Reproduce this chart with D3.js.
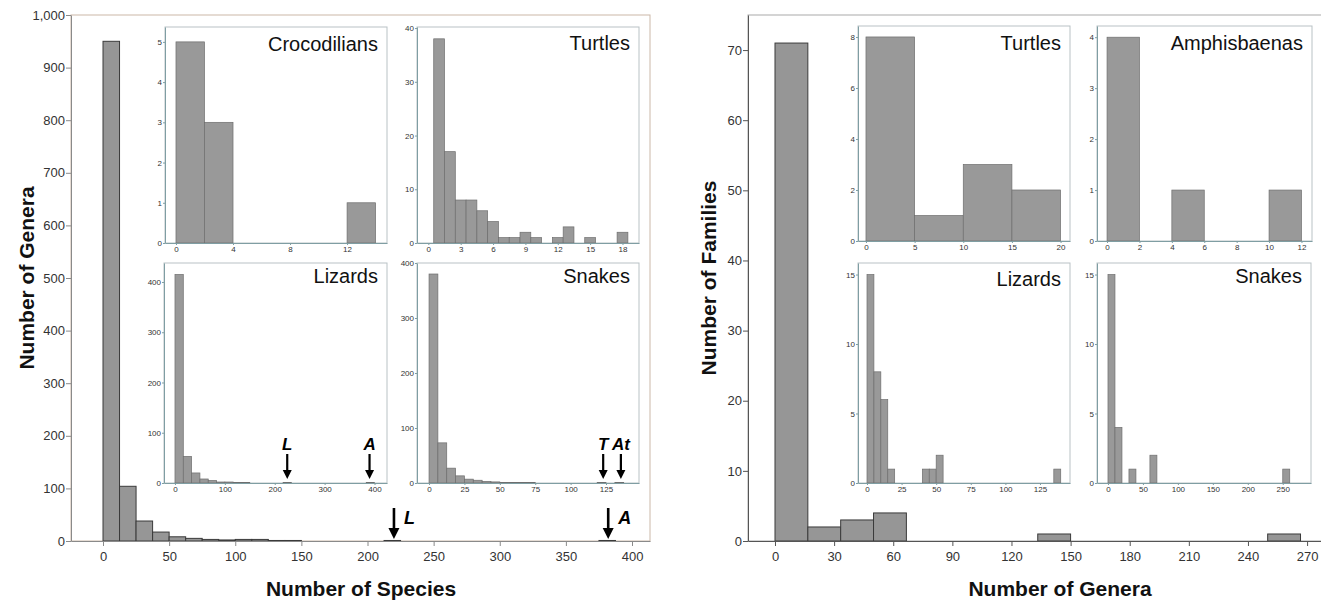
<!DOCTYPE html>
<html>
<head>
<meta charset="utf-8">
<script src="https://cdn.jsdelivr.net/npm/d3@7"></script>
<style>
  body { margin: 0; background: #fff; }
  svg { display: block; font-family: "Liberation Sans", Arial, sans-serif; }
</style>
</head>
<body>
<div id="chart"></div>
<script>
// ---- Left panel: number of genera by number of species (all reptiles) ----
const speciesBinWidth = 12.5;
const speciesBinStart = [0, 12.5, 25, 37.5, 50, 62.5, 75, 87.5, 100, 112.5, 125, 137.5, 212.5, 375];
const speciesGenera = [950, 104, 38, 17, 8, 5, 3, 2, 3, 3, 1, 1, 1, 1];
const speciesTicksX = [0, 50, 100, 150, 200, 250, 300, 350, 400];
const speciesTicksY = [0, 100, 200, 300, 400, 500, 600, 700, 800, 900, 1000];
const speciesArrows = [{ x: 220, label: "L" }, { x: 382, label: "A" }];

// insets (species per genus)
const crocStart = [0, 2, 12];
const crocCount = [5, 3, 1];
const crocTicksX = [0, 4, 8, 12];
const crocTicksY = [0, 1, 2, 3, 4, 5];

const turtleSpStart = [0.5, 1.5, 2.5, 3.5, 4.5, 5.5, 6.5, 7.5, 8.5, 9.5, 11.5, 12.5, 14.5, 17.5];
const turtleSpCount = [38, 17, 8, 8, 6, 4, 1, 1, 2, 1, 1, 3, 1, 2];
const turtleSpTicksX = [0, 3, 6, 9, 12, 15, 18];
const turtleSpTicksY = [0, 10, 20, 30, 40];

const lizardSpStart = [0, 16.67, 33.33, 50, 66.67, 83.33, 100, 116.67, 133.33, 216.67, 383.33];
const lizardSpCount = [415, 53, 20, 8, 5, 2, 2, 1, 1, 1, 1];
const lizardSpTicksX = [0, 100, 200, 300, 400];
const lizardSpTicksY = [0, 100, 200, 300, 400];
const lizardSpArrows = [{ x: 225, label: "L" }, { x: 390, label: "A" }];

const snakeSpStart = [0, 6.25, 12.5, 18.75, 25, 31.25, 37.5, 43.75, 50, 56.25, 62.5, 68.75, 118.75, 131.25];
const snakeSpCount = [380, 73, 27, 13, 7, 5, 3, 2, 1, 1, 1, 1, 1, 1];
const snakeSpTicksX = [0, 25, 50, 75, 100, 125];
const snakeSpTicksY = [0, 100, 200, 300, 400];
const snakeSpArrows = [{ x: 123, label: "T" }, { x: 135.5, label: "At" }];

// ---- Right panel: number of families by number of genera ----
const generaBinWidth = 50 / 3;
const generaBinStart = [0, 16.67, 33.33, 50, 133.33, 250];
const generaFamilies = [71, 2, 3, 4, 1, 1];
const generaTicksX = [0, 30, 60, 90, 120, 150, 180, 210, 240, 270];
const generaTicksY = [0, 10, 20, 30, 40, 50, 60, 70];

const turtleGenStart = [0, 5, 10, 15];
const turtleGenCount = [8, 1, 3, 2];
const turtleGenTicksX = [0, 5, 10, 15, 20];
const turtleGenTicksY = [0, 2, 4, 6, 8];

const amphisStart = [0, 4, 10];
const amphisCount = [4, 1, 1];
const amphisTicksX = [0, 2, 4, 6, 8, 10, 12];
const amphisTicksY = [0, 1, 2, 3, 4];

const lizardGenStart = [0, 5, 10, 15, 40, 45, 50, 135];
const lizardGenCount = [15, 8, 6, 1, 1, 1, 2, 1];
const lizardGenTicksX = [0, 25, 50, 75, 100, 125];
const lizardGenTicksY = [0, 5, 10, 15];

const snakeGenStart = [0, 10, 30, 60, 250];
const snakeGenCount = [15, 4, 1, 2, 1];
const snakeGenTicksX = [0, 50, 100, 150, 200, 250];
const snakeGenTicksY = [0, 5, 10, 15];

const svg = d3.select("#chart")
  .append("svg")
  .attr("width", 1321)
  .attr("height", 602);

function histogram(c) {
  const x = d3.scaleLinear().domain(c.xDomain).range([c.left, c.right]);
  const y = d3.scaleLinear().domain(c.yDomain).range([c.bottom, c.top]);
  const g = svg.append("g");

  g.append("rect")
    .attr("x", c.left).attr("y", c.top)
    .attr("width", c.right - c.left).attr("height", c.bottom - c.top)
    .attr("fill", "#fff")
    .attr("stroke", c.frame)
    .attr("stroke-width", 1);

  g.selectAll("rect.bar")
    .data(d3.zip(c.starts, c.counts))
    .join("rect")
    .attr("class", "bar")
    .attr("x", d => x(d[0]))
    .attr("width", d => x(d[0] + c.binWidth) - x(d[0]))
    .attr("y", d => y(d[1]))
    .attr("height", d => y(0) - y(d[1]))
    .attr("fill", c.fill)
    .attr("stroke", c.barStroke)
    .attr("stroke-width", c.barStrokeWidth);

  const xAxis = g.append("g")
    .attr("transform", `translate(0,${c.bottom})`)
    .call(d3.axisBottom(x).tickValues(c.xTicks).tickSize(c.tick).tickPadding(c.pad).tickSizeOuter(0));
  const yAxis = g.append("g")
    .attr("transform", `translate(${c.left},0)`)
    .call(d3.axisLeft(y).tickValues(c.yTicks).tickSize(c.tick).tickPadding(c.padY)
      .tickSizeOuter(0).tickFormat(c.yFormat || d3.format("d")));

  [xAxis, yAxis].forEach(a => {
    a.select(".domain").attr("stroke", c.axisColor);
    a.selectAll(".tick line").attr("stroke", c.axisColor);
    a.selectAll("text")
      .attr("font-family", "Liberation Sans, Arial, sans-serif")
      .attr("font-size", c.fontSize)
      .attr("fill", c.textColor);
  });

  if (c.title) {
    g.append("text")
      .attr("x", c.right - 9)
      .attr("y", c.titleY)
      .attr("text-anchor", "end")
      .attr("font-size", 20)
      .attr("fill", "#111")
      .text(c.title);
  }
  return { x, y, g };
}

function arrows(h, list, a) {
  list.forEach(d => {
    const cx = h.x(d.x);
    h.g.append("line")
      .attr("x1", cx).attr("x2", cx)
      .attr("y1", a.top).attr("y2", a.tip - a.head + 1)
      .attr("stroke", "#000").attr("stroke-width", a.width);
    h.g.append("path")
      .attr("d", `M${cx - a.headW / 2},${a.tip - a.head} L${cx + a.headW / 2},${a.tip - a.head} L${cx},${a.tip} Z`)
      .attr("fill", "#000");
    h.g.append("text")
      .attr("x", cx + a.labelDx)
      .attr("y", a.labelY)
      .attr("text-anchor", a.anchor)
      .attr("font-size", a.fontSize)
      .attr("font-weight", "bold")
      .attr("font-style", "italic")
      .text(d.label);
  });
}

const mainStyle = {
  fill: "#969696", barStroke: "#3a3a3a", barStrokeWidth: 1,
  tick: 5, pad: 6, padY: 1, fontSize: 13, textColor: "#333"
};
const insetStyle = {
  fill: "#999", barStroke: "#6e6e6e", barStrokeWidth: 0.7,
  frame: "#b9c2c5", axisColor: "#7f9ea3",
  tick: 2, pad: 1, padY: 1, fontSize: 8, textColor: "#333"
};

// ---- left main ----
const leftMain = histogram(Object.assign({}, mainStyle, {
  left: 71, right: 650, top: 15, bottom: 541,
  xDomain: [-24.2, 413.6], yDomain: [0, 1000],
  starts: speciesBinStart, counts: speciesGenera, binWidth: speciesBinWidth,
  xTicks: speciesTicksX, yTicks: speciesTicksY, yFormat: d3.format(","),
  frame: "#cbb8a8", axisColor: "#8a8a8a"
}));

arrows(leftMain, speciesArrows, {
  top: 508, tip: 539, head: 11, headW: 11, width: 2.6,
  labelDx: 10, labelY: 524, anchor: "start", fontSize: 18
});

// ---- right main ----
histogram(Object.assign({}, mainStyle, {
  left: 748, right: 1326, top: 15, bottom: 541,
  xDomain: [-13.7, 279.6], yDomain: [0, 75],
  starts: generaBinStart, counts: generaFamilies, binWidth: generaBinWidth,
  xTicks: generaTicksX, yTicks: generaTicksY,
  frame: "#a9a9a9", axisColor: "#555"
}));

// ---- left insets ----
histogram(Object.assign({}, insetStyle, {
  left: 165, right: 387, top: 27, bottom: 243,
  xDomain: [-0.77, 14.8], yDomain: [0, 5.37],
  starts: crocStart, counts: crocCount, binWidth: 2,
  xTicks: crocTicksX, yTicks: crocTicksY,
  title: "Crocodilians", titleY: 51
}));

histogram(Object.assign({}, insetStyle, {
  left: 417, right: 639, top: 27, bottom: 243,
  xDomain: [-1.05, 19.53], yDomain: [0, 40.2],
  starts: turtleSpStart, counts: turtleSpCount, binWidth: 1,
  xTicks: turtleSpTicksX, yTicks: turtleSpTicksY,
  title: "Turtles", titleY: 50
}));

const lizSp = histogram(Object.assign({}, insetStyle, {
  left: 164, right: 387, top: 263, bottom: 483,
  xDomain: [-22, 425], yDomain: [0, 437.8],
  starts: lizardSpStart, counts: lizardSpCount, binWidth: 50 / 3,
  xTicks: lizardSpTicksX, yTicks: lizardSpTicksY,
  title: "Lizards", titleY: 283
}));
arrows(lizSp, lizardSpArrows, {
  top: 454, tip: 479, head: 9, headW: 9, width: 2.2,
  labelDx: 0, labelY: 450, anchor: "middle", fontSize: 17
});

const snkSp = histogram(Object.assign({}, insetStyle, {
  left: 417, right: 639, top: 263, bottom: 483,
  xDomain: [-8.5, 148.3], yDomain: [0, 400],
  starts: snakeSpStart, counts: snakeSpCount, binWidth: 6.25,
  xTicks: snakeSpTicksX, yTicks: snakeSpTicksY,
  title: "Snakes", titleY: 283
}));
arrows(snkSp, snakeSpArrows, {
  top: 454, tip: 479, head: 9, headW: 9, width: 2.2,
  labelDx: 0, labelY: 450, anchor: "middle", fontSize: 17
});

// ---- right insets ----
histogram(Object.assign({}, insetStyle, {
  left: 858, right: 1070, top: 26, bottom: 241,
  xDomain: [-0.82, 20.97], yDomain: [0, 8.43],
  starts: turtleGenStart, counts: turtleGenCount, binWidth: 5,
  xTicks: turtleGenTicksX, yTicks: turtleGenTicksY,
  title: "Turtles", titleY: 50
}));

histogram(Object.assign({}, insetStyle, {
  left: 1097, right: 1312, top: 26, bottom: 241,
  xDomain: [-0.62, 12.65], yDomain: [0, 4.22],
  starts: amphisStart, counts: amphisCount, binWidth: 2,
  xTicks: amphisTicksX, yTicks: amphisTicksY,
  title: "Amphisbaenas", titleY: 50
}));

histogram(Object.assign({}, insetStyle, {
  left: 858, right: 1070, top: 263, bottom: 483,
  xDomain: [-6.5, 146.7], yDomain: [0, 15.83],
  starts: lizardGenStart, counts: lizardGenCount, binWidth: 5,
  xTicks: lizardGenTicksX, yTicks: lizardGenTicksY,
  title: "Lizards", titleY: 286
}));

histogram(Object.assign({}, insetStyle, {
  left: 1097, right: 1311, top: 263, bottom: 483,
  xDomain: [-15.7, 290.4], yDomain: [0, 15.83],
  starts: snakeGenStart, counts: snakeGenCount, binWidth: 10,
  xTicks: snakeGenTicksX, yTicks: snakeGenTicksY,
  title: "Snakes", titleY: 283
}));

// ---- axis titles ----
const titles = [
  { text: "Number of Species", x: 361, y: 596, rotate: false },
  { text: "Number of Genera", x: 1060, y: 596, rotate: false },
  { text: "Number of Genera", x: 34, y: 278, rotate: true },
  { text: "Number of Families", x: 716, y: 278, rotate: true }
];
svg.selectAll("text.axis-title")
  .data(titles)
  .join("text")
  .attr("class", "axis-title")
  .attr("transform", d => `translate(${d.x},${d.y})` + (d.rotate ? " rotate(-90)" : ""))
  .attr("text-anchor", "middle")
  .attr("font-size", 21)
  .attr("font-weight", "bold")
  .attr("fill", "#111")
  .text(d => d.text);
</script>
</body>
</html>
